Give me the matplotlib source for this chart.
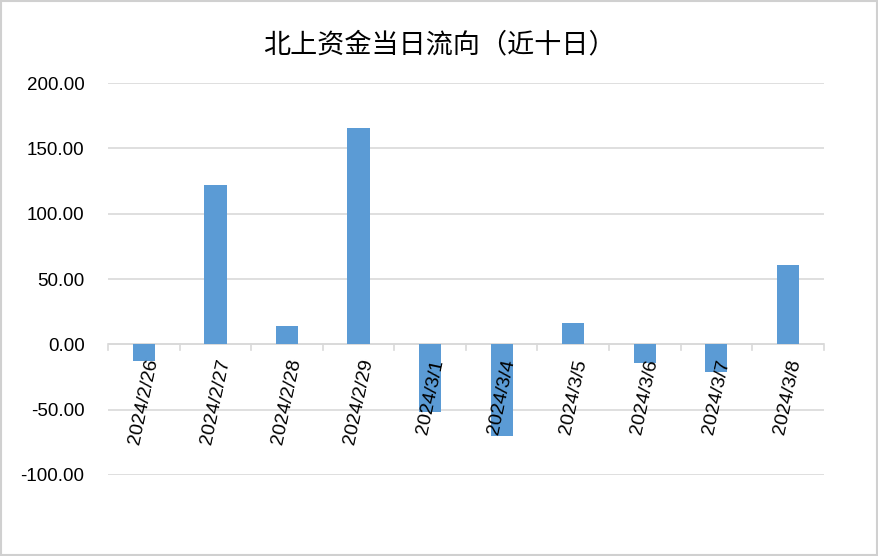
import matplotlib
matplotlib.use("Agg")
import matplotlib.pyplot as plt
from matplotlib.patches import Rectangle
import numpy as np

plt.rcParams['font.family'] = ['Noto Sans CJK SC', 'DejaVu Sans']

# 数据
dates = ["2024/2/26", "2024/2/27", "2024/2/28", "2024/2/29", "2024/3/1",
         "2024/3/4", "2024/3/5", "2024/3/6", "2024/3/7", "2024/3/8"]
flows = [-13.0, 122.0, 14.0, 165.5, -52.0, -70.0, 16.0, -14.0, -21.5, 60.5]
yticks = [-100, -50, 0, 50, 100, 150, 200]

fig = plt.figure(figsize=(8.79, 5.56), dpi=100)
ax = fig.add_axes([0.123, 0.1457, 0.814, 0.705])

x = np.arange(len(dates))
ax.bar(x, flows, width=0.31, color="#5B9BD5", zorder=3)

ax.set_xlim(-0.5, len(dates) - 0.5)
ax.set_ylim(-100, 200)
ax.set_yticks(yticks)
ax.set_yticklabels([f"{v:.2f}" for v in yticks], fontsize=13.5,
                   family=['Liberation Sans', 'DejaVu Sans'])
ax.tick_params(axis='y', length=0, pad=17)
ax.grid(axis='y', color="#D9D9D9", linewidth=1.2, zorder=0)

for s in ax.spines.values():
    s.set_visible(False)

# x轴在0处
ax.axhline(0, color="#D9D9D9", linewidth=1.2, zorder=2)
ax.set_xticks([])
for b in np.arange(-0.5, len(dates), 1.0):
    ax.plot([b, b], [0, -4], color="#D9D9D9", linewidth=1.2, zorder=2, clip_on=False)
for xi, lab in zip(x, dates):
    ax.text(xi, -10, lab, rotation=78, ha='center', va='top', fontsize=14,
            family=['Liberation Sans', 'DejaVu Sans'], zorder=4)

fig.text(0.5, 0.92, "北上资金当日流向（近十日）", ha='center', va='center', fontsize=19.5)

fig.patches.append(Rectangle((0.001, 0.001), 0.997, 0.997, transform=fig.transFigure,
                             fill=False, edgecolor="#D0D0D0", linewidth=1.5))

fig.savefig("out.png", dpi=100)
